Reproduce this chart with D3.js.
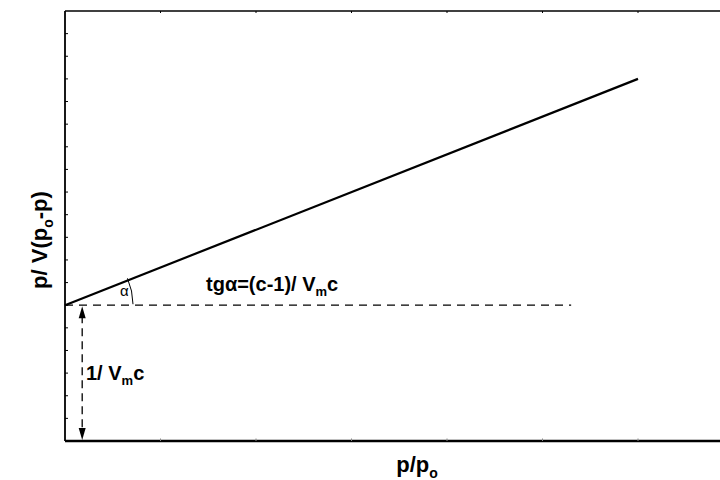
<!DOCTYPE html>
<html>
<head>
<meta charset="utf-8">
<script src="https://cdn.jsdelivr.net/npm/d3@7"></script>
<style>
html,body{margin:0;padding:0;background:#fff;}
svg{display:block;}
text{font-family:"Liberation Sans",Arial,sans-serif;fill:#000;}
</style>
</head>
<body>
<svg id="chart" width="720" height="480"></svg>
<script>
// Data (axis units: x = p/po ticks, y = tick units)
const xTicks = [0, 0.1, 0.2, 0.3, 0.4, 0.5, 0.6, 0.7];
const yTicks = d3.range(0, 20, 1);
const linePoints = [[0, 6], [0.6, 16]];        // BET straight line
const interceptY = 6;                          // 1/Vm c
const dashedEndX = 0.53;                        // end of horizontal dashed line
const arrowX = 0.018;                           // vertical arrow position

const svg = d3.select("#chart");
const x = d3.scaleLinear().domain([0, 0.7]).range([65, 733.5]);
const y = d3.scaleLinear().domain([0, 19]).range([441, 11]);

// frame
svg.append("line").attr("x1", x(0)).attr("x2", 740).attr("y1", y(19)).attr("y2", y(19))
  .attr("stroke", "#000").attr("stroke-width", 1.6);
svg.append("line").attr("x1", x(0)).attr("x2", 740).attr("y1", y(0)).attr("y2", y(0))
  .attr("stroke", "#000").attr("stroke-width", 2.4);
svg.append("line").attr("x1", x(0)).attr("x2", x(0)).attr("y1", y(19)).attr("y2", y(0))
  .attr("stroke", "#000").attr("stroke-width", 1.8);

// left ticks (inside)
svg.append("g").selectAll("line").data(yTicks.slice(1, -1)).join("line")
  .attr("x1", x(0)).attr("x2", x(0) + 3)
  .attr("y1", d => y(d)).attr("y2", d => y(d))
  .attr("stroke", "#000").attr("stroke-width", 1);
// top and bottom ticks (inside)
svg.append("g").selectAll("line").data(xTicks.slice(1)).join("line")
  .attr("x1", d => x(d)).attr("x2", d => x(d))
  .attr("y1", y(19)).attr("y2", y(19) + 2)
  .attr("stroke", "#000").attr("stroke-width", 1);
svg.append("g").selectAll("line").data(xTicks.slice(1)).join("line")
  .attr("x1", d => x(d)).attr("x2", d => x(d))
  .attr("y1", y(0)).attr("y2", y(0) - 2.5)
  .attr("stroke", "#888").attr("stroke-width", 1);

// horizontal dashed line
svg.append("line").attr("x1", x(0)).attr("x2", x(dashedEndX))
  .attr("y1", y(interceptY)).attr("y2", y(interceptY))
  .attr("stroke", "#000").attr("stroke-width", 1.3).attr("stroke-dasharray", "8,6");

// main line
svg.append("path").datum(linePoints)
  .attr("d", d3.line().x(d => x(d[0])).y(d => y(d[1])))
  .attr("stroke", "#000").attr("stroke-width", 2.2).attr("fill", "none");

// angle arc
const ang = Math.atan2(y(linePoints[0][1]) - y(linePoints[1][1]), x(linePoints[1][0]) - x(linePoints[0][0]));
const r = 68;
const cx = x(0), cy = y(interceptY);
const a0 = -ang - 0.03, a1 = 0;
svg.append("path")
  .attr("d", `M${cx + r*Math.cos(a0)},${cy + r*Math.sin(a0)} A${r},${r} 0 0 1 ${cx + r*Math.cos(a1)},${cy + r*Math.sin(a1) - 1}`)
  .attr("stroke", "#000").attr("stroke-width", 1).attr("fill", "none");
svg.append("text").attr("x", cx + 55).attr("y", cy - 9).attr("font-size", 15).text("α");

// vertical dashed arrow
const ax = x(arrowX);
svg.append("line").attr("x1", ax).attr("x2", ax).attr("y1", y(interceptY) + 10).attr("y2", y(0) - 10)
  .attr("stroke", "#000").attr("stroke-width", 1.3).attr("stroke-dasharray", "8,5");
svg.append("path").attr("d", `M${ax},${y(interceptY)+1} L${ax-3.5},${y(interceptY)+13} L${ax+3.5},${y(interceptY)+13}Z`).attr("fill", "#000");
svg.append("path").attr("d", `M${ax},${y(0)-1} L${ax-3.5},${y(0)-13} L${ax+3.5},${y(0)-13}Z`).attr("fill", "#000");

// labels
const t1 = svg.append("text").attr("x", 206).attr("y", 291).attr("font-size", 20).attr("font-weight", "bold");
t1.append("tspan").text("tgα=(c-1)/ V");
t1.append("tspan").attr("font-size", 13).attr("dy", 5).text("m");
t1.append("tspan").attr("dy", -5).text("c");

const t2 = svg.append("text").attr("x", 86).attr("y", 380).attr("font-size", 20).attr("font-weight", "bold");
t2.append("tspan").text("1/ V");
t2.append("tspan").attr("font-size", 13).attr("dy", 5).text("m");
t2.append("tspan").attr("dy", -5).text("c");

const t3 = svg.append("text").attr("x", 417).attr("y", 472).attr("font-size", 22).attr("font-weight", "bold")
  .attr("text-anchor", "middle");
t3.append("tspan").text("p/p");
t3.append("tspan").attr("font-size", 14).attr("dy", 6).text("o");

const t4 = svg.append("text").attr("transform", "translate(47,240) rotate(-90)")
  .attr("font-size", 22).attr("font-weight", "bold").attr("text-anchor", "middle");
t4.append("tspan").text("p/ V(p");
t4.append("tspan").attr("font-size", 14).attr("dy", 6).text("o");
t4.append("tspan").attr("dy", -6).text("-p)");
</script>
</body>
</html>
